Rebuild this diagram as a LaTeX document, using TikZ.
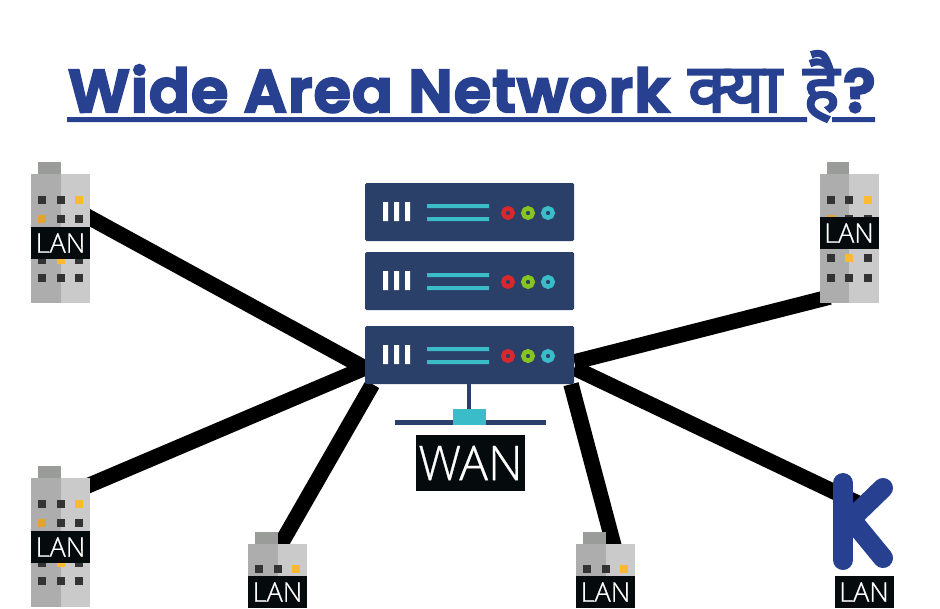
\documentclass[tikz,border=0pt]{standalone}
\usepackage{fontspec}
\setmainfont[FakeBold=0.6]{Open Sans Light}
\newfontfamily\titlefont[LetterSpace=2.3,FakeBold=4]{Poppins SemiBold}
\newfontfamily\hindifont[Script=Devanagari,FakeBold=3.5]{Noto Sans}
\usetikzlibrary{backgrounds}
\definecolor{navy}{HTML}{2B4069}
\definecolor{teal2}{HTML}{3ABCC9}
\definecolor{red2}{HTML}{D9272E}
\definecolor{green2}{HTML}{86C41F}
\definecolor{titleblue}{HTML}{27408F}
\definecolor{bdark}{HTML}{ADADAD}
\definecolor{blight}{HTML}{CACACA}
\definecolor{bcap}{HTML}{9A9C9A}
\definecolor{win}{HTML}{333333}
\definecolor{orange2}{HTML}{FDB933}
\definecolor{orange3}{HTML}{E3A32C}
\definecolor{lblack}{HTML}{050A0C}
\tikzset{
  wire/.style={line width=15.5pt,black},
  lan/.style={fill=lblack,text=white,inner sep=0pt,minimum width=59pt,minimum height=32pt,font=\fontsize{27}{27}\selectfont},
  server/.style={fill=navy,rounded corners=1.5pt,inner sep=0pt,minimum width=209pt,minimum height=58pt},
  place/.style={inner sep=0pt,minimum width=59pt},
  klet/.style={line width=20pt,titleblue,line cap=round,line join=round},
  ttl/.style={anchor=base west,inner sep=0pt,text=titleblue},
}
\newcommand{\wnd}[3]{\fill[#3] (#1-4,#2-4) rectangle (#1+4,#2+4);}
\newcommand{\bldg}[3]{% x, captop, bottom
  \fill[bcap] (#1+7,#2) rectangle (#1+29.5,#2+12);
  \fill[bdark] (#1,#2+12) rectangle (#1+29.5,#3);
  \fill[blight] (#1+29.5,#2+12) rectangle (#1+59,#3);
}
\newcommand{\winrow}[5]{% x, y, c1, c2, c3
  \wnd{#1+11}{#2}{#3}\wnd{#1+29.7}{#2}{#4}\wnd{#1+48}{#2}{#5}}
\newcommand{\srv}[2]{%
  \node[server] (#1) at (469.5,#2) {};
  \fill[white] (383,#2-10) rectangle (388,#2+9) (394,#2-10) rectangle (399,#2+9) (405,#2-10) rectangle (410,#2+9);
  \fill[teal2] (427,#2-8) rectangle (489,#2-4) (427,#2+5) rectangle (489,#2+9);
  \draw[red2,line width=4.5pt] (508,#2+1) circle (4.7);
  \draw[green2,line width=4.5pt] (528,#2+1) circle (4.7);
  \draw[teal2,line width=4.5pt] (548,#2+1) circle (4.7);
}
\begin{document}
\begin{tikzpicture}[x=1pt,y=-1pt]
\useasboundingbox (0,0) rectangle (940,608);
% title
\node[ttl,font=\titlefont\fontsize{60}{60}\selectfont] (t1) at (68,112) {Wide Area Network};
\node[ttl,font=\hindifont\fontsize{68}{68}\selectfont] (t2) at (688,112) {क्या};
\node[ttl,font=\hindifont\fontsize{68}{68}\selectfont] (t2b) at (803,112) {है};
\node[ttl,font=\titlefont\fontsize{60}{60}\selectfont] (t3) at (843,112) {?};
\fill[titleblue] (67,117) rectangle (807,122) (832,117) rectangle (875,122);
% servers
\srv{s1}{212}
\srv{s2}{281}
\srv{s3}{355}
% WAN device
\fill[navy] (467,384) rectangle (471,410);
\fill[navy] (395,420) rectangle (546,425);
\fill[teal2] (453,409) rectangle (486,425);
\node[fill=lblack,text=white,inner sep=0pt,minimum width=109pt,minimum height=56pt,font=\fontsize{48}{48}\selectfont] (wan) at (470.5,463) {WAN};
% buildings
\node[place,minimum height=141pt] (b1) at (60.5,232.5) {};
\bldg{31}{162}{303}
\winrow{31}{200}{win}{win}{orange2}
\winrow{31}{219}{orange3}{win}{win}
\winrow{31}{260}{win}{orange2}{win}
\winrow{31}{278}{win}{win}{win}
\node[lan] (l1) at (60.5,243) {LAN};

\node[place,minimum height=141pt] (b2) at (849,232.5) {};
\bldg{819.5}{162}{303}
\winrow{819.5}{200}{win}{win}{orange2}
\winrow{819.5}{219}{orange3}{win}{win}
\winrow{819.5}{258}{win}{orange2}{win}
\winrow{819.5}{278}{win}{win}{win}
\node[lan] (l2) at (849,233) {LAN};

\node[place,minimum height=141pt] (b3) at (60.5,536.5) {};
\bldg{31}{466}{607}
\winrow{31}{504}{win}{win}{orange2}
\winrow{31}{523}{orange3}{win}{win}
\winrow{31}{563}{win}{orange2}{win}
\winrow{31}{581}{win}{win}{win}
\node[lan] (l3) at (60.5,547) {LAN};

\node[place,minimum height=76pt] (b4) at (277.5,570) {};
\bldg{248}{532}{608}
\winrow{248}{569}{win}{win}{orange2}
\node[lan] (l4) at (277.5,592) {LAN};

\node[place,minimum height=76pt] (b5) at (605.5,570) {};
\bldg{576}{532}{608}
\winrow{576}{569}{win}{win}{orange2}
\node[lan] (l5) at (605.5,592) {LAN};

% K logo
\node[place,minimum height=97pt] (k) at (862.5,521.5) {};
\draw[klet] (843,483) -- (843,560);
\draw[klet] (883,488) -- (851,519) -- (883,558);
\node[lan] (l6) at (864,592) {LAN};
% connectors
\begin{pgfonlayer}{background}
\draw[wire] ([xshift=-10pt,yshift=20pt]b1.east) -- ([yshift=-13pt]s3.west);
\draw[wire] ([xshift=-10pt,yshift=47.5pt]b3.east) -- ([yshift=-13pt]s3.west);
\draw[wire] ([yshift=-18pt]b4.north) -- ([xshift=-97pt]s3.south);
\draw[wire] ([xshift=10pt,yshift=-20pt]b5.north) -- ([xshift=101.5pt]s3.south);
\draw[wire] ([xshift=-49pt,yshift=-64.5pt]b2.east) -- ([yshift=-7pt]s3.east);
\draw[wire] ([xshift=-23pt,yshift=13pt]k.east) -- ([yshift=-13pt]s3.east);
\end{pgfonlayer}
\end{tikzpicture}
\end{document}
